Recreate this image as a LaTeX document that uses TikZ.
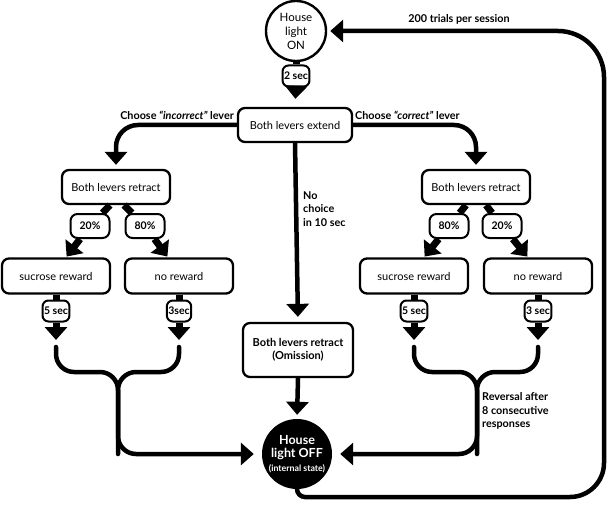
\documentclass[tikz,border=0pt]{standalone}
\usepackage{fontspec}
\setmainfont{Lato}
\usetikzlibrary{arrows.meta,calc}
\begin{document}
\begin{tikzpicture}[x=1pt,y=-1pt,
  box/.style={draw, line width=2.3pt, rounded corners=7pt, fill=white, align=center, inner sep=0pt, font=\fontsize{11}{13}\selectfont},
  tag/.style={draw, line width=2pt, rounded corners=6pt, fill=white, inner xsep=1.5pt, inner ysep=0pt, minimum height=21pt, font=\bfseries\fontsize{10.5}{12}\selectfont},
  pct/.style={tag, minimum width=39pt, minimum height=24pt, rounded corners=7pt},
  flow/.style={line width=4.5pt, -{Triangle[width=22pt,length=13pt]}},
  stub/.style={line width=7pt},
  tflow/.style={line width=7pt, -{Triangle[width=22pt,length=13pt]}},
  curve/.style={line width=4.5pt, line cap=round, rounded corners=18pt},
  lbl/.style={font=\bfseries\fontsize{10.8}{13.5}\selectfont, inner sep=0pt, align=left}
]
\useasboundingbox (0,0) rectangle (609,505);

% nodes
\node[draw, circle, line width=2.4pt, minimum size=60pt, inner sep=0pt, align=center, font=\fontsize{11.5}{14}\selectfont] (on) at (296,31) {House\\light\\ON};
\node[tag] (t2) at (296,76) {2 sec};
\node[box, minimum width=114pt, minimum height=34pt] (ext) at (295,125) {Both levers extend};

\node[box, minimum width=108pt, minimum height=34pt] (lret) at (116,187) {Both levers retract};
\node[box, minimum width=108pt, minimum height=34pt] (rret) at (476,187) {Both levers retract};

\node[box, minimum width=108pt, minimum height=35pt] (lsuc) at (56,276) {sucrose reward};
\node[box, minimum width=108pt, minimum height=35pt] (lno) at (179,276) {no reward};
\node[box, minimum width=108pt, minimum height=35pt] (rsuc) at (414,276) {sucrose reward};
\node[box, minimum width=108pt, minimum height=35pt] (rno) at (538,276) {no reward};

\node[box, font=\bfseries\fontsize{11}{13.5}\selectfont, minimum width=110pt, minimum height=54pt] (om) at (298,350) {Both levers retract\\(Omission)};

\node[circle, fill=black, minimum size=70pt, inner sep=0pt, align=center, text=white, font=\bfseries\fontsize{12.5}{13.5}\selectfont] (off) at (297,454) {House\\light OFF\\{\fontsize{8.8}{10}\selectfont(internal state)}};

% labels
\node[lbl, anchor=east] (chI) at (234,115) {Choose \textit{``incorrect''} lever};
\node[lbl, anchor=west] (chC) at (355,115) {Choose \textit{``correct''} lever};
\node[lbl] (trials) at (459,19) {200 trials per session};
\node[lbl, anchor=west] (nochoice) at (303,209) {No\\choice\\in 10 sec};
\node[lbl, anchor=west] (rev) at (482,411) {Reversal after\\8 consecutive\\responses};

% top connectors
\draw[stub] (on.south) -- (t2.north);
\draw[tflow, shorten >=8pt] (t2.south) -- (ext.north);
\draw[flow, rounded corners=22pt, shorten >=4pt] (ext.west) -| (lret.north);
\draw[flow, rounded corners=22pt, shorten >=4pt] (ext.east) -| (rret.north);
\draw[flow, shorten >=5pt] (ext.south) -- (om.north);
\draw[flow, shorten >=4pt] (om.south) -- (off.north);

% percent tags and diagonals
\node[pct] (l20) at (90,226) {20\%};
\node[pct] (l80) at (145,226) {80\%};
\node[pct] (r80) at (449,226) {80\%};
\node[pct] (r20) at (502,226) {20\%};
\draw[stub] ([xshift=-6pt]lret.south) -- (l20);
\draw[tflow, shorten >=1pt] (l20) -- ([xshift=10pt]lsuc.north);
\draw[stub] ([xshift=8pt]lret.south) -- (l80);
\draw[tflow, shorten >=1pt] (l80) -- ([xshift=-11pt]lno.north);
\draw[stub] ([xshift=-10pt]rret.south) -- (r80);
\draw[tflow, shorten >=1pt] (r80) -- ([xshift=10pt]rsuc.north);
\draw[stub] ([xshift=10pt]rret.south) -- (r20);
\draw[tflow, shorten >=1pt] (r20) -- ([xshift=-10pt]rno.north);

% timer tags
\node[tag] (l5) at (56,311) {5 sec};
\node[tag] (l3) at (179,311) {3sec};
\node[tag] (r5) at (414,311) {5 sec};
\node[tag] (r3) at (538,311) {3 sec};
\coordinate (la5) at (56,340);
\coordinate (la3) at (179,340);
\coordinate (ra5) at (414,340);
\coordinate (ra3) at (538,340);
\coordinate (lc5) at (56,347);
\coordinate (lc3) at (179,347);
\coordinate (rc5) at (414,347);
\coordinate (rc3) at (538,347);
\foreach \b/\t/\a in {lsuc/l5/la5, lno/l3/la3, rsuc/r5/ra5, rno/r3/ra3}{
  \draw[stub] (\b.south) -- (\t.north);
  \draw[tflow] (\t.south) -- (\a);
}

% merging curves
\coordinate (lj) at (118,372);
\coordinate (rj) at (477,372);
\draw[curve] (lc5) |- (lj) -- (lj |- off.west);
\draw[curve, -{Triangle[width=22pt,length=13pt]}, shorten >=8pt] (lc3) |- (lj) |- (off.west);
\draw[curve] (rc3) |- (rj) -- (rj |- off.east);
\draw[curve, -{Triangle[width=22pt,length=13pt]}, shorten >=8pt] (rc5) |- (rj) |- (off.east);

% outer loop
\coordinate (obr) at (604,497);
\coordinate (otr) at (604,31);
\draw[flow, shorten >=3pt] (off.south) [rounded corners=8pt] -- (off.south |- obr) [rounded corners=34pt] -- (obr) [rounded corners=46pt] -- (otr) -- (on.east);
\end{tikzpicture}
\end{document}
